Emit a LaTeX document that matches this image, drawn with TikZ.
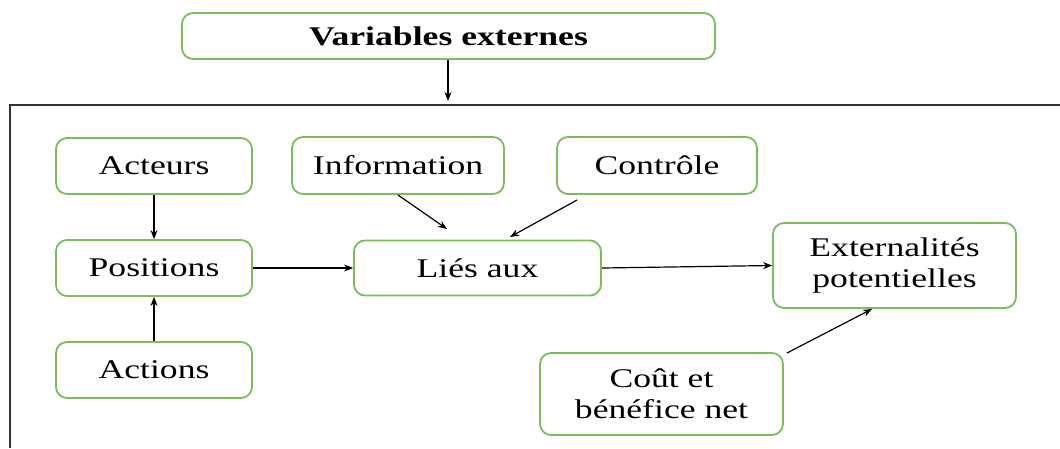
\documentclass[tikz,border=0pt]{standalone}
\usepackage{fontspec}
\setmainfont{Liberation Serif}[FakeStretch=1.32]
\usetikzlibrary{arrows.meta}
\definecolor{boxgreen}{RGB}{122,190,90}
\tikzset{
  greenbox/.style={draw=boxgreen, line width=1.8pt, rounded corners=11pt,
    fill=white, inner sep=0pt, align=center,
    font=\fontsize{27}{31}\selectfont},
  flow/.style={-{Stealth[length=9pt,width=7pt]}, line width=1.2pt, black},
}
\begin{document}
\begin{tikzpicture}[x=1pt,y=-1pt]
  \useasboundingbox (0,0) rectangle (1060,448);
  % frame around the internal system
  \draw[line width=2pt, black!80] (10,448) -- (10,105) -- (1060,105);

  % boxes (positions in page units)
  \node[greenbox, minimum width=533pt, minimum height=46pt, font=\fontsize{27}{31}\selectfont\bfseries]
    (ext) at (448.5,36) {Variables externes};
  \node[greenbox, minimum width=196pt, minimum height=56pt] (act) at (154,166) {Acteurs};
  \node[greenbox, minimum width=196pt, minimum height=56pt] (pos) at (154,268) {Positions};
  \node[greenbox, minimum width=196pt, minimum height=56pt] (acn) at (154,370) {Actions};
  \node[greenbox, minimum width=212pt, minimum height=57pt] (inf) at (398,165.5) {Information};
  \node[greenbox, minimum width=200pt, minimum height=57pt] (ctl) at (657,165.5) {Contrôle};
  \node[greenbox, minimum width=247pt, minimum height=55pt] (lie) at (477.5,268) {Liés aux};
  \node[greenbox, minimum width=243pt, minimum height=85pt] (exn) at (894.5,265.5) {Externalités\\potentielles};
  \node[greenbox, minimum width=243pt, minimum height=82pt] (cou) at (661.5,394) {Coût et\\bénéfice net};

  % connectors
  \coordinate (top) at (448,101);
  \draw[flow, line width=2.4pt] (ext.south -| top) -- (top);
  \draw[flow] (act.south) -- (pos.north);
  \draw[flow] (acn.north) -- (pos.south);
  \draw[flow] (pos.east) -- (lie.west);
  \draw[flow] (lie.east) -- (exn.west);
  \coordinate (infend) at (447,229);
  \coordinate (infstart) at (398,195);
  \draw[flow] (infstart) -- (infend);
  \coordinate (ctlstart) at (577,200);
  \coordinate (ctlend) at (510,237);
  \draw[flow] (ctlstart) -- (ctlend);
  \coordinate (coustart) at (787,353);
  \coordinate (couend) at (872,309);
  \draw[flow] (coustart) -- (couend);
\end{tikzpicture}
\end{document}
